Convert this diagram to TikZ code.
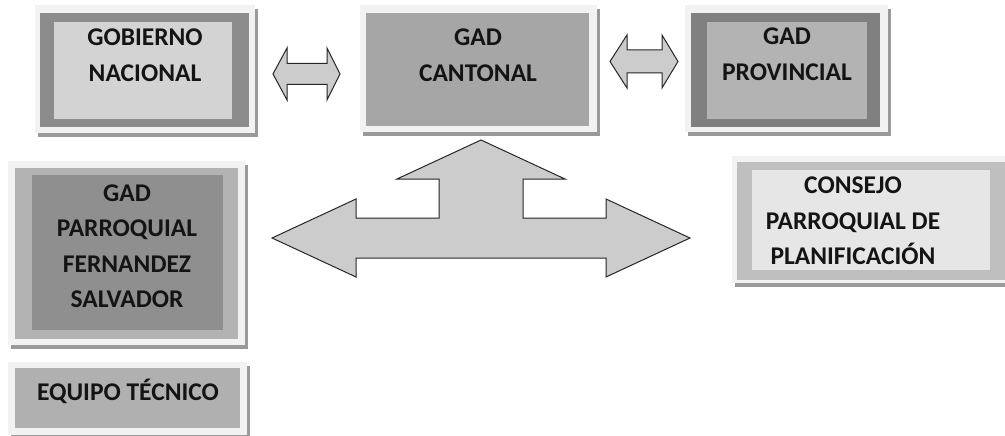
\documentclass[tikz,border=0pt]{standalone}
\usepackage{fontspec}
\setmainfont{Carlito}
\usetikzlibrary{shadows}
\definecolor{frameC}{HTML}{F2F2F2}
\definecolor{shadowC}{HTML}{9A9A9A}
\definecolor{gnBand}{HTML}{8C8C8C}
\definecolor{gnIn}{HTML}{D3D3D3}
\definecolor{caIn}{HTML}{A6A6A6}
\definecolor{prBand}{HTML}{808080}
\definecolor{prIn}{HTML}{B3B3B3}
\definecolor{paBand}{HTML}{B3B3B3}
\definecolor{paIn}{HTML}{8F8F8F}
\definecolor{eqIn}{HTML}{B0B0B0}
\definecolor{coBand}{HTML}{BFBFBF}
\definecolor{coIn}{HTML}{E6E6E6}
\definecolor{arrowC}{HTML}{CCCCCC}
\tikzset{
  blk/.style={anchor=north west, inner sep=0pt, outer sep=0pt, draw=none},
  frame/.style={blk, fill=frameC, drop shadow={shadow xshift=3pt, shadow yshift=-4pt, fill=shadowC, opacity=1}},
  label/.style={font=\bfseries\fontsize{25.5}{35.5}\selectfont, text=black!92, align=center, inner sep=0pt},
  blockarrow/.style={fill=arrowC, draw=black!85, line width=1pt, line join=miter},
}
\begin{document}
\begin{tikzpicture}[x=1pt,y=-1pt]
\useasboundingbox (0,0) rectangle (1005,436);
% GOBIERNO NACIONAL
\node[frame, minimum width=220pt, minimum height=128pt] (gnF) at (35,5) {};
\node[blk, fill=gnBand, minimum width=209pt, minimum height=114pt] (gnB) at (40,13) {};
\node[blk, fill=gnIn, minimum width=178pt, minimum height=97pt] (gnI) at (54,22) {};
\node[label] (gnT) at (145,55) {GOBIERNO\\NACIONAL};
% GAD CANTONAL
\node[frame, minimum width=237pt, minimum height=127pt] (caF) at (360,5) {};
\node[blk, fill=caIn, minimum width=223pt, minimum height=113pt] (caI) at (366,13) {};
\node[label] (caT) at (478,55) {GAD\\CANTONAL};
% GAD PROVINCIAL
\node[frame, minimum width=203pt, minimum height=127pt] (prF) at (685,5) {};
\node[blk, fill=prBand, minimum width=189pt, minimum height=114pt] (prB) at (691,13) {};
\node[blk, fill=prIn, minimum width=160pt, minimum height=97pt] (prI) at (707,22) {};
\node[label] (prT) at (787,54) {GAD\\PROVINCIAL};
% GAD PARROQUIAL
\node[frame, minimum width=237pt, minimum height=184pt] (paF) at (8,161) {};
\node[blk, fill=paBand, minimum width=223pt, minimum height=171pt] (paB) at (15,168) {};
\node[blk, fill=paIn, minimum width=191pt, minimum height=155pt] (paI) at (32,175) {};
\node[label] (paT) at (127,246) {GAD\\PARROQUIAL\\FERNANDEZ\\SALVADOR};
% EQUIPO TECNICO
\node[frame, minimum width=239pt, minimum height=73pt] (eqF) at (8,362) {};
\node[blk, fill=eqIn, minimum width=225pt, minimum height=60pt] (eqI) at (15,368) {};
\node[label] (eqT) at (128,391) {EQUIPO TÉCNICO};
% CONSEJO
\node[frame, minimum width=290pt, minimum height=127pt] (coF) at (732,156) {};
\node[blk, fill=coBand, minimum width=280pt, minimum height=118pt] (coB) at (737,162) {};
\node[blk, fill=coIn, minimum width=238pt, minimum height=100pt] (coI) at (752,170) {};
\node[label] (coT) at (853,221) {CONSEJO\\PARROQUIAL DE\\PLANIFICACIÓN};
% double arrow 1
\draw[blockarrow] (273,74) -- (287,48) -- (287,63.5) -- (327,63.5) -- (327,48) -- (340,74)
  -- (327,100) -- (327,84.5) -- (287,84.5) -- (287,100) -- cycle;
% double arrow 2
\draw[blockarrow] (610,61.5) -- (627,35) -- (627,50) -- (662,50) -- (662,35) -- (678,61.5)
  -- (662,88) -- (662,73) -- (627,73) -- (627,88) -- cycle;
% big three-way arrow
\draw[blockarrow] (481,140) -- (565,179) -- (523,179) -- (523,218) -- (606,218) -- (606,199)
  -- (690,238) -- (606,277) -- (606,258) -- (356,258) -- (356,277) -- (272,238) -- (356,199)
  -- (356,218) -- (439,218) -- (439,179) -- (397,179) -- cycle;
\end{tikzpicture}
\end{document}
